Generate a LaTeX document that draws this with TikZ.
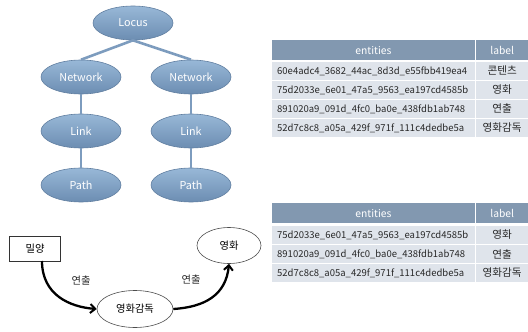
\documentclass[tikz,border=0pt]{standalone}
\usepackage{fontspec}
\setmainfont{Noto Sans CJK KR}
\usetikzlibrary{shapes.geometric,arrows.meta}
\definecolor{hdr}{RGB}{130,152,176}
\definecolor{rowc}{RGB}{223,228,235}
\definecolor{elltop}{RGB}{152,184,215}
\definecolor{ellbot}{RGB}{108,141,178}
\definecolor{elledge}{RGB}{96,126,160}
\definecolor{treeline}{RGB}{125,156,190}
\definecolor{txt}{RGB}{40,40,40}
\begin{document}
\begin{tikzpicture}[x=1pt,y=-1pt,
  tree/.style={ellipse, minimum width=80pt, minimum height=34pt, inner sep=0pt,
    draw=elledge, line width=0.6pt, top color=elltop, bottom color=ellbot,
    text=white, font=\fontsize{10.8}{12}\selectfont},
  tline/.style={draw=treeline, line width=2.6pt},
  hcell/.style={fill=hdr, text=white, inner sep=0pt, anchor=north west,
    minimum height=20pt, font=\fontsize{10.3}{12}\selectfont},
  ecell/.style={fill=rowc, text=txt, inner ysep=0pt, inner xsep=5pt, anchor=north west,
    minimum height=17.5pt, text width=192.5pt, align=left, font=\fontsize{9.5}{12}\selectfont},
  lcell/.style={fill=rowc, text=txt, inner sep=0pt, anchor=north west,
    minimum height=17.5pt, minimum width=52pt, font=\fontsize{10.6}{12}\selectfont},
  gell/.style={ellipse, draw=black!70, line width=0.6pt, inner sep=0pt,
    font=\fontsize{10.3}{12}\selectfont},
  arr/.style={line width=2.3pt, -{Straight Barb[length=5pt,width=9pt,line width=2pt]}},
  elab/.style={font=\fontsize{10.3}{12}\selectfont, text=txt}
]
\useasboundingbox (0,0) rectangle (528,332);
% tree
\node[tree] (locus) at (133,23) {Locus};
\node[tree] (netL) at (81,77) {Network};
\node[tree] (netR) at (191,77) {Network};
\node[tree] (linkL) at (81,131) {Link};
\node[tree] (linkR) at (191,131) {Link};
\node[tree] (pathL) at (81,185) {Path};
\node[tree] (pathR) at (191,185) {Path};
\draw[tline] (locus.south) -- (netL.north);
\draw[tline] (locus.south) -- (netR.north);
\draw[tline] (netL.south) -- (linkL.north);
\draw[tline] (netR.south) -- (linkR.north);
\draw[tline] (linkL.south) -- (pathL.north);
\draw[tline] (linkR.south) -- (pathR.north);
% table 1
\node[hcell, minimum width=202.5pt] (ah) at (272,40) {entities};
\node[hcell, minimum width=52pt] (alh) at (476,40) {label};
\node[ecell] (a1) at (272,62) {60e4adc4\_3682\_44ac\_8d3d\_e55fbb419ea4};
\node[lcell] (al1) at (476,62) {콘텐츠};
\node[ecell] (a2) at (272,81) {75d2033e\_6e01\_47a5\_9563\_ea197cd4585b};
\node[lcell] (al2) at (476,81) {영화};
\node[ecell] (a3) at (272,100) {891020a9\_091d\_4fc0\_ba0e\_438fdb1ab748};
\node[lcell] (al3) at (476,100) {연출};
\node[ecell] (a4) at (272,119) {52d7c8c8\_a05a\_429f\_971f\_111c4dedbe5a};
\node[lcell] (al4) at (476,119) {영화감독};
% table 2
\node[hcell, minimum width=202.5pt] (bh) at (272,203) {entities};
\node[hcell, minimum width=52pt] (blh) at (476,203) {label};
\node[ecell] (b1) at (272,226) {75d2033e\_6e01\_47a5\_9563\_ea197cd4585b};
\node[lcell] (bl1) at (476,226) {영화};
\node[ecell] (b2) at (272,245) {891020a9\_091d\_4fc0\_ba0e\_438fdb1ab748};
\node[lcell] (bl2) at (476,245) {연출};
\node[ecell] (b3) at (272,264) {52d7c8c8\_a05a\_429f\_971f\_111c4dedbe5a};
\node[lcell] (bl3) at (476,264) {영화감독};
% graph
\node[draw=black!80, line width=0.7pt, minimum width=51pt, minimum height=25pt, inner sep=0pt,
  font=\fontsize{10.3}{12}\selectfont] (my) at (35,248.5) {밀양};
\node[gell, minimum width=76pt, minimum height=37pt] (dir) at (135,309) {영화감독};
\node[gell, minimum width=64pt, minimum height=36pt] (mov) at (229,245.5) {영화};
\coordinate (s1) at (42,261);
\draw[arr] (s1) .. controls (42,295) and (70,307) .. (dir.west);
\draw[arr] (dir.east) .. controls (205,307) and (226,295) .. (mov.south);
\node[elab] (l1) at (81,281) {연출};
\node[elab] (l2) at (191,280) {연출};
\end{tikzpicture}
\end{document}
